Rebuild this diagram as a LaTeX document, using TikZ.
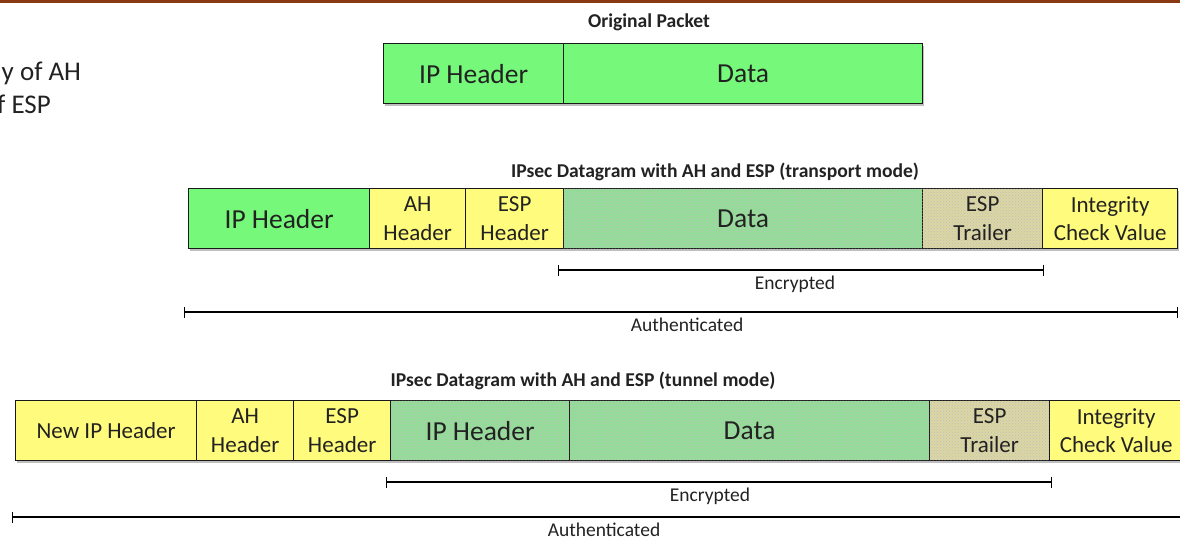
\documentclass[tikz,border=0pt]{standalone}
\usepackage{fontspec}
\setmainfont{Carlito}
\usetikzlibrary{patterns,shadows,arrows.meta}
\definecolor{pgreen}{HTML}{76F87A}
\definecolor{pyellow}{HTML}{FFFB7C}
\definecolor{hgreen}{HTML}{92DE96}
\definecolor{htrail}{HTML}{DCD6A2}
\definecolor{rulebrown}{HTML}{8A3A12}
\definecolor{txt}{HTML}{222222}
\begin{document}
\begin{tikzpicture}[x=1pt,y=-1pt,
  cell/.style={draw=black!90, line width=1.3pt, anchor=north west, minimum height=60pt,
    inner sep=0pt, text=txt, align=center, font=\fontsize{23}{28.5}\selectfont,
    drop shadow={shadow xshift=1.5pt, shadow yshift=-2.5pt, opacity=.25, fill=black}},
  big/.style={font=\fontsize{27.5}{32}\selectfont},
  cgreen/.style={fill=pgreen},
  cyellow/.style={fill=pyellow},
  hatchg/.style={fill=hgreen, postaction={pattern=crosshatch dots, pattern color=black!25}},
  hatcht/.style={fill=htrail, postaction={pattern=crosshatch dots, pattern color=black!25}},
  ttl/.style={font=\bfseries\fontsize{19.6}{22}\selectfont, text=txt, inner sep=0pt},
  lbl/.style={font=\fontsize{19.5}{22}\selectfont, text=txt, inner sep=0pt},
  bracket/.style={line width=1.3pt, {Bar[width=11pt,line width=1.3pt]}-{Bar[width=11pt,line width=1.3pt]}},
  side/.style={font=\fontsize{27}{34}\selectfont, text=txt, inner sep=0pt, anchor=base west}
]
\useasboundingbox (0,0) rectangle (1180,539);
\clip (0,0) rectangle (1180,539);
\fill[rulebrown] (0,0) rectangle (1180,2.5);

% side text (cut off at the left edge, as in the reference)
\node[side] (s1) at (1.5,80) {y of AH};
\node[side] (s2) at (-3,113) {f ESP};

% Original packet
\node[ttl] (t0) at (649,22) {Original Packet};
\node[cell,cgreen,big,minimum width=180pt] (o-ip) at (383,43) {IP Header};
\node[cell,cgreen,big,minimum width=359pt] (o-data) at (563,43) {Data};

% Transport mode
\node[ttl] (t1) at (715,172) {IPsec Datagram with AH and ESP (transport mode)};
\node[cell,cgreen,big,minimum width=181pt] (a-ip) at (188,188) {IP Header};
\node[cell,cyellow,minimum width=96pt] (a-ah) at (369,188) {AH\\Header};
\node[cell,cyellow,minimum width=98pt] (a-esp) at (465,188) {ESP\\Header};
\node[cell,hatchg,big,minimum width=359pt] (a-data) at (563,188) {Data};
\node[cell,hatcht,minimum width=120pt] (a-tr) at (922,188) {ESP\\Trailer};
\node[cell,cyellow,minimum width=135pt] (a-icv) at (1042,188) {Integrity\\Check Value};

\coordinate (ae1) at (558,270);
\coordinate (ae2) at (1044,270);
\draw[bracket] (ae1) -- (ae2);
\node[lbl] (ae) at (795,284) {Encrypted};
\coordinate (aa1) at (184,312);
\coordinate (aa2) at (1178,312);
\draw[bracket] (aa1) -- (aa2);
\node[lbl] (aa) at (687,325) {Authenticated};

% Tunnel mode
\node[ttl] (t2) at (583,381) {IPsec Datagram with AH and ESP (tunnel mode)};
\node[cell,cyellow,minimum width=181pt] (b-new) at (15,400) {New IP Header};
\node[cell,cyellow,minimum width=97pt] (b-ah) at (196,400) {AH\\Header};
\node[cell,cyellow,minimum width=97pt] (b-esp) at (293,400) {ESP\\Header};
\node[cell,hatchg,big,minimum width=179pt] (b-ip) at (390,400) {IP Header};
\node[cell,hatchg,big,minimum width=360pt] (b-data) at (569,400) {Data};
\node[cell,hatcht,minimum width=120pt] (b-tr) at (929,400) {ESP\\Trailer};
\node[cell,cyellow,minimum width=133pt] (b-icv) at (1049,400) {Integrity\\Check Value};

\coordinate (be1) at (386,482);
\coordinate (be2) at (1052,482);
\draw[bracket] (be1) -- (be2);
\node[lbl] (be) at (710,496) {Encrypted};
\coordinate (ba1) at (12,517);
\coordinate (ba2) at (1200,517);
\draw[bracket] (ba1) -- (ba2);
\node[lbl] (ba) at (604,529.5) {Authenticated};
\end{tikzpicture}
\end{document}
